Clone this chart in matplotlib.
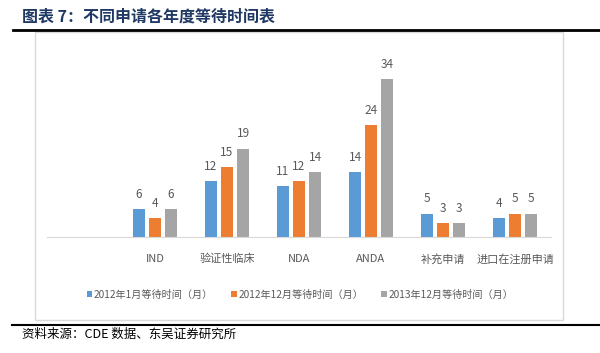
import matplotlib
matplotlib.use("Agg")
import matplotlib.pyplot as plt
import numpy as np
from matplotlib.patches import Rectangle
from matplotlib.lines import Line2D

plt.rcParams['font.family'] = ['Noto Sans CJK SC', 'DejaVu Sans']

categories = ["", "IND", "验证性临床", "NDA", "ANDA", "补充申请", "进口在注册申请"]
series_names = ["2012年1月等待时间（月）", "2012年12月等待时间（月）", "2013年12月等待时间（月）"]
jan_2012 = [None, 6, 12, 11, 14, 5, 4]
dec_2012 = [None, 4, 15, 12, 24, 3, 5]
dec_2013 = [None, 6, 19, 14, 34, 3, 5]
colors = ["#5B9BD5", "#ED7D31", "#A5A5A5"]

W, H = 600, 353
fig = plt.figure(figsize=(6, 3.53), dpi=100)

# outer frame, title and source lines (pixel coords -> figure fraction)
def fx(px):
    return px / W

def fy(py):
    return 1 - py / H

fig.patches.append(Rectangle((fx(35), fy(320)), fx(563) - fx(35), fy(32) - fy(320),
                             transform=fig.transFigure, fill=False,
                             edgecolor="#D9D9D9", lw=1))
fig.lines.append(Line2D([fx(13), 1], [fy(30), fy(30)], transform=fig.transFigure,
                        color="black", lw=2))
fig.lines.append(Line2D([fx(12), 1], [fy(325), fy(325)], transform=fig.transFigure,
                        color="black", lw=1.5))
fig.text(fx(22), fy(17), "图表 7：不同申请各年度等待时间表", fontsize=11.5,
         fontweight="bold", color="#1F3864", va="center")
fig.text(fx(22), fy(334), "资料来源：CDE 数据、东吴证券研究所", fontsize=9,
         color="black", va="center")

ax = fig.add_axes([fx(47), fy(237), fx(551) - fx(47), 186 / H])
x = np.arange(len(categories))
bw = 12 / 72
step = 16 / 72
for i, vals in enumerate([jan_2012, dec_2012, dec_2013]):
    xs = [xi + (i - 1) * step for xi, v in zip(x, vals) if v is not None]
    ys = [v for v in vals if v is not None]
    bars = ax.bar(xs, ys, width=bw, color=colors[i], label=series_names[i])
    for b, v in zip(bars, ys):
        ax.annotate(str(v), (b.get_x() + b.get_width() / 2, v), xytext=(0, 6),
                    textcoords="offset points", ha="center", va="bottom",
                    fontsize=8.5, color="#595959")

ax.set_xlim(-0.5, len(categories) - 0.5)
ax.set_ylim(0, 40)
ax.set_xticks(x)
ax.set_xticklabels(categories, fontsize=8, color="#595959")
ax.tick_params(axis="x", length=0, pad=12)
ax.set_yticks([])
for s in ["top", "right", "left"]:
    ax.spines[s].set_visible(False)
ax.spines["bottom"].set_color("#D9D9D9")
ax.patch.set_alpha(0)

fig.legend(loc="center", bbox_to_anchor=(0.5, fy(295)), ncol=3, frameon=False,
           fontsize=7.3, labelcolor="#595959", handlelength=0.55, handleheight=0.55,
           handletextpad=0.15, columnspacing=1.8)

fig.savefig("out.png", dpi=100)
